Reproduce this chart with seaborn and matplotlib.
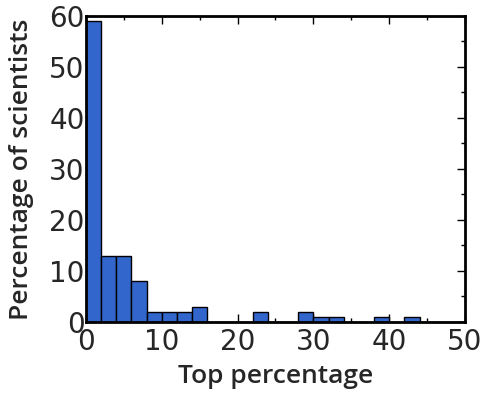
import numpy as np
import pandas as pd
import seaborn as sns
import matplotlib
matplotlib.use("Agg")
import matplotlib.pyplot as plt
from matplotlib.ticker import MultipleLocator

# Data: histogram bins (left edges, width 2) and percentage of scientists
bin_left = [0, 2, 4, 6, 8, 10, 12, 14, 22, 28, 30, 32, 38, 42]
percent = [59, 13, 13, 8, 2, 2, 2, 3, 2, 2, 1, 1, 1, 1]
bin_edges = list(range(0, 52, 2))
x_ticks = [0, 10, 20, 30, 40, 50]
y_ticks = [0, 10, 20, 30, 40, 50, 60]

df = pd.DataFrame({"top": [b + 1 for b in bin_left], "pct": percent})

sns.set_style("white")
fig = plt.figure(figsize=(4.87, 3.95), dpi=100)
ax = fig.add_axes([0.1766, 0.1848, 0.9548 - 0.1766, 0.960 - 0.1848])

sns.histplot(data=df, x="top", weights="pct", bins=bin_edges, ax=ax,
             color="#3366cc", alpha=1.0, edgecolor="black", linewidth=1.0)

ax.set_xlim(0, 50)
ax.set_ylim(0, 60)
ax.set_xticks(x_ticks)
ax.set_yticks(y_ticks)
ax.xaxis.set_minor_locator(MultipleLocator(5))
ax.yaxis.set_minor_locator(MultipleLocator(5))
ax.tick_params(which="both", direction="in", top=True, right=True,
               bottom=True, left=True, width=1.0, color="black")
ax.tick_params(which="major", length=6, labelsize=20)
ax.tick_params(axis="y", which="major", pad=1)
ax.tick_params(axis="x", which="major", pad=4)
ax.tick_params(which="minor", length=3)
for lab in ax.get_xticklabels() + ax.get_yticklabels():
    lab.set_family("DejaVu Sans")
for s in ax.spines.values():
    s.set_visible(True)
    s.set_linewidth(2)
    s.set_color("black")

ax.set_xlabel("Top percentage", fontsize=19, fontweight="semibold",
              family=["Open Sans", "DejaVu Sans"], labelpad=6)
ax.set_ylabel("Percentage of scientists", fontsize=19, fontweight="semibold",
              family=["Open Sans", "DejaVu Sans"], labelpad=11)

fig.savefig("out.png", dpi=100)
